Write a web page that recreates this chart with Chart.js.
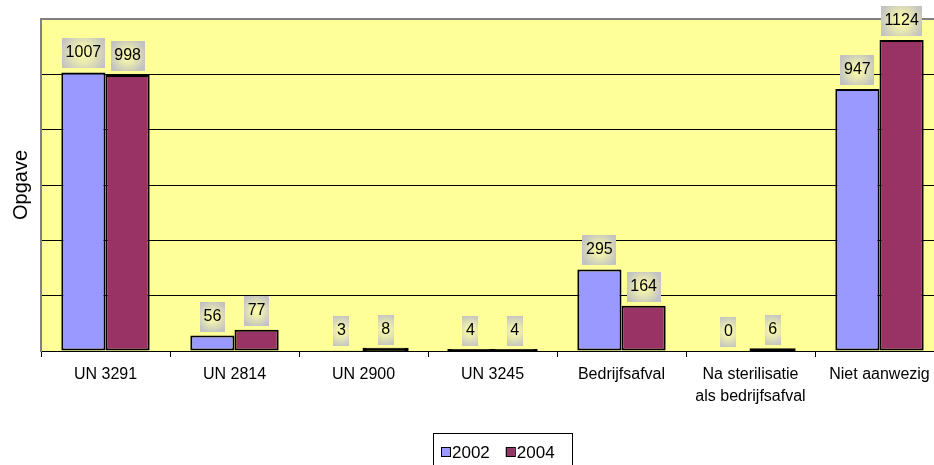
<!DOCTYPE html>
<html>
<head>
<meta charset="utf-8">
<script src="https://cdn.jsdelivr.net/npm/chart.js@4.4.1/dist/chart.umd.min.js"></script>
<style>
  html, body { margin: 0; padding: 0; background: #fff; overflow: hidden; }
  #wrap { width: 934px; height: 465px; overflow: hidden; }
  canvas { display: block; }
</style>
</head>
<body>
<div id="wrap"><canvas id="chart" width="944" height="465"></canvas></div>
<script>
const categories = ['UN 3291', 'UN 2814', 'UN 2900', 'UN 3245', 'Bedrijfsafval', ['Na sterilisatie', 'als bedrijfsafval'], 'Niet aanwezig'];
const values2002 = [1007, 56, 3, 4, 295, 0, 947];
const values2004 = [998, 77, 8, 4, 164, 6, 1124];
const seriesNames = ['2002', '2004'];
const seriesColors = ['#9999FF', '#993366'];
const yTicks = [0, 200, 400, 600, 800, 1000, 1200];

const FONT = 'Liberation Sans, Arial, sans-serif';

// yellow plot background + gray top frame (under the labels)
const plotBackground = {
    id: 'plotBackground',
    beforeDraw(chart) {
        const { ctx, chartArea: a } = chart;
        ctx.save();
        ctx.fillStyle = '#FFFF99';
        ctx.fillRect(a.left, a.top, a.right - a.left, a.bottom - a.top);
        ctx.restore();
    },
    beforeDatasetsDraw(chart) {
        const { ctx, chartArea: a } = chart;
        ctx.save();
        ctx.strokeStyle = '#808080';
        ctx.lineWidth = 2;
        ctx.beginPath();
        ctx.moveTo(a.left - 1, a.top);
        ctx.lineTo(a.right, a.top);
        ctx.stroke();
        ctx.restore();
    }
};

// gray label boxes with a soft yellow glow
const valueBoxes = {
    id: 'valueBoxes',
    afterDatasetsDraw(chart) {
        const ctx = chart.ctx;
        ctx.save();
        ctx.font = '16px ' + FONT;
        ctx.textAlign = 'center';
        ctx.textBaseline = 'middle';
        chart.data.datasets.forEach((ds, i) => {
            chart.getDatasetMeta(i).data.forEach((bar, j) => {
                const text = String(ds.data[j]);
                const w = Math.round(ctx.measureText(text).width + 7);
                const h = 30;
                const x = Math.round(bar.x - w / 2);
                const y = Math.round(bar.y - 4 - h);
                const cx = bar.x, cy = y + h / 2;
                const g = ctx.createRadialGradient(cx, cy, 0, cx, cy, Math.max(w, h) * 0.55);
                g.addColorStop(0, '#FFFFA8');
                g.addColorStop(0.4, '#EAEAB0');
                g.addColorStop(1, '#C2C2C2');
                ctx.fillStyle = g;
                ctx.fillRect(x, y, w, h);
                ctx.fillStyle = '#000';
                ctx.fillText(text, cx, cy);
            });
        });
        ctx.restore();
    }
};

// boxed legend at the bottom
const boxLegend = {
    id: 'boxLegend',
    afterDraw(chart) {
        const ctx = chart.ctx;
        ctx.save();
        ctx.strokeStyle = '#000';
        ctx.lineWidth = 1;
        ctx.strokeRect(433.5, 433.5, 139, 40);
        ctx.font = '17px ' + FONT;
        ctx.textBaseline = 'middle';
        let x = 441;
        seriesNames.forEach((name, i) => {
            ctx.fillStyle = seriesColors[i];
            ctx.fillRect(x, 447.5, 9, 9);
            ctx.strokeStyle = '#000';
            ctx.strokeRect(x + 0.5, 447.5, 9, 9);
            ctx.fillStyle = '#000';
            ctx.fillText(name, x + 11, 453);
            x += 11 + ctx.measureText(name).width + 16;
        });
        ctx.restore();
    }
};

// tiny bars show up as a thick black line
const barFill = color => ctx => (ctx.raw < 20 ? '#000' : color);

new Chart(document.getElementById('chart'), {
    type: 'bar',
    data: {
        labels: categories,
        datasets: [
            { label: seriesNames[0], data: values2002, backgroundColor: barFill(seriesColors[0]) },
            { label: seriesNames[1], data: values2004, backgroundColor: barFill(seriesColors[1]) }
        ]
    },
    options: {
        responsive: false,
        animation: false,
        devicePixelRatio: 1,
        layout: { padding: { top: 19, right: 0, bottom: 0, left: 0 } },
        datasets: {
            bar: {
                barPercentage: 1,
                categoryPercentage: 0.685,
                borderColor: '#000',
                borderWidth: 2,
                borderSkipped: false,
                inflateAmount: ctx => (ctx.raw >= 4 && ctx.raw < 20 ? 1 : 0)
            }
        },
        plugins: {
            legend: { display: false },
            tooltip: { enabled: false }
        },
        scales: {
            x: {
                grid: { offset: true, drawOnChartArea: false, color: '#000', tickLength: 6 },
                border: { color: '#000', width: 1 },
                ticks: { color: '#000', font: { family: FONT, size: 16, lineHeight: 1.375 }, padding: 7, maxRotation: 0, autoSkip: false },
                afterFit(scale) { scale.height = 114; }
            },
            y: {
                min: 0,
                max: 1200,
                afterBuildTicks(scale) { scale.ticks = yTicks.map(v => ({ value: v })); },
                ticks: { display: false },
                grid: { color: '#000', lineWidth: 1, drawTicks: false },
                border: { color: '#808080', width: 2 },
                title: { display: true, text: 'Opgave', color: '#000', font: { family: FONT, size: 20 }, padding: { top: 9, bottom: 0 } },
                afterFit(scale) { scale.width = 41; }
            }
        }
    },
    plugins: [plotBackground, valueBoxes, boxLegend]
});
</script>
</body>
</html>
